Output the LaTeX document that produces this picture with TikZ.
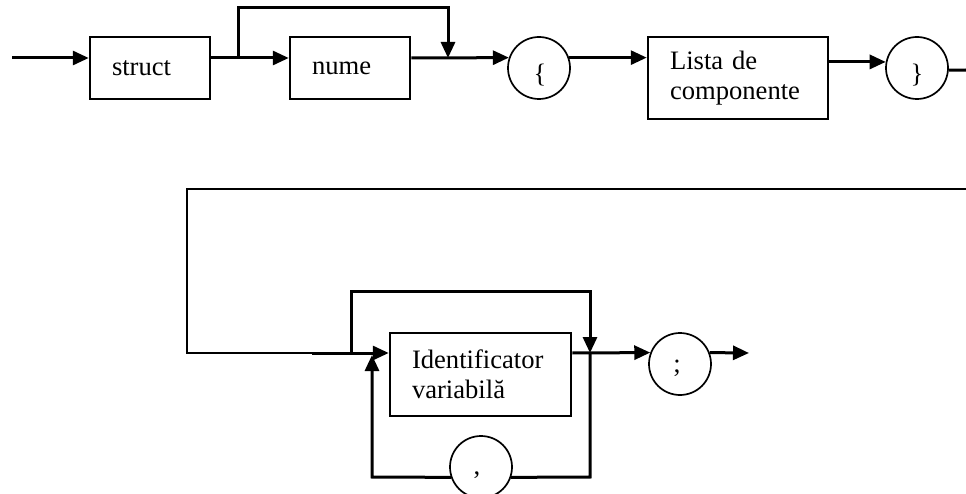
\documentclass[tikz,border=0pt]{standalone}
\usepackage{fontspec}
\setmainfont{Liberation Serif}
\usetikzlibrary{arrows.meta}
\begin{document}
\begin{tikzpicture}[x=1pt,y=-1pt,
  conn/.style={line width=3pt, -{Triangle[length=16pt,width=14pt]}},
  plain/.style={line width=3pt},
  thinline/.style={line width=2pt},
  box/.style={draw, line width=2.5pt, inner xsep=22pt, inner ysep=0pt, align=left,
    font=\fontsize{26.6}{30}\selectfont},
  ring/.style={draw, circle, line width=1.7pt, minimum size=62pt, inner sep=0pt},
  glyph/.style={inner sep=0pt, font=\fontsize{26.6}{30}\selectfont},
]
\useasboundingbox (0,0) rectangle (966,494);

% ---- first line: struct [nume] { list }
\coordinate (in) at (12,58);
\node[box, text width=76pt, minimum height=62pt] (struct) at (150,68) {struct};
\node[box, text width=76pt, minimum height=62pt] (nume) at (350,68) {nume};
\node[ring] (lb) at (539,68) {};
\node[glyph] (lbt) at (540,75) {\{};
\node[box, text width=136pt, minimum height=82pt] (lista) at (738,78) {Lista de\\componente};
\node[ring] (rb) at (917,68) {};
\node[glyph] (rbt) at (917,75) {\}};
\coordinate (out1) at (966,70);

\coordinate (j1) at (238,58);
\coordinate (top1) at (448,8);
\coordinate (j2) at (448,58);

\draw[conn] (in) -- (struct.west |- in);
\draw[conn] (struct.east |- in) -- (nume.west |- in);
\draw[conn] (j1) |- (top1) -- (j2);
\draw[conn] (nume.east |- in) -- (lb.161);
\draw[conn] (lb.19) -- (lista.west |- lb.19);
\draw[conn] (lista.east |- rb.169) -- (rb.169);
\draw[plain] (rb.-4) -- (out1);

% ---- second line: variable identifiers separated by commas, then ;
\coordinate (out2) at (966,189);
\coordinate (corner) at (187,189);
\coordinate (bend) at (312,353);
\node[box, text width=137pt, minimum height=83pt] (idv) at (480.5,374.5) {Identificator\\variabilă};

\coordinate (j3) at (351,353);
\coordinate (top2) at (590,291);
\coordinate (j4) at (590,353);
\coordinate (br) at (590,477);
\coordinate (bl) at (372,477);
\coordinate (up) at (372,355);
\coordinate (fin) at (749,353);

\node[ring] (cm) at (481,467) {};
\node[glyph] (cmt) at (477,475) {,};
\node[ring] (sc) at (680,364) {};
\node[glyph] (sct) at (677,368) {;};

\draw[thinline] (out2) -- (corner) |- (bend);
\draw[conn] (bend) -- (idv.west |- bend);
\draw[conn] (j3) |- (top2) -- (j4);
\draw[plain] (j4) -- (br) -- (cm.-19);
\draw[conn] (cm.199) -- (bl) -- (up);
\draw[conn] (idv.east |- j4) -- (sc.159);
\draw[conn] (sc.21) -- (fin);
\end{tikzpicture}
\end{document}
